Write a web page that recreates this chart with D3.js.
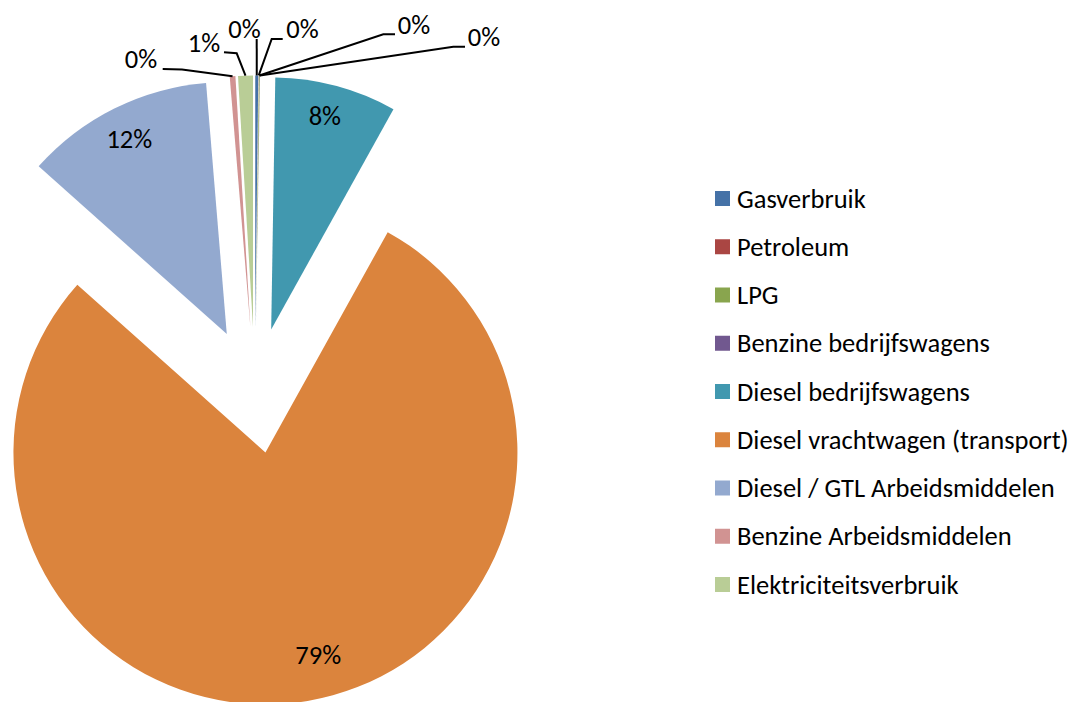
<!DOCTYPE html>
<html>
<head>
<meta charset="utf-8">
<script src="https://cdn.jsdelivr.net/npm/d3@7"></script>
<style>
  html, body { margin: 0; padding: 0; background: #fff; }
  svg { display: block; }
  text { font-family: Carlito, Calibri, Lato, sans-serif; fill: #000; }
</style>
</head>
<body>
<svg id="chart" width="1074" height="702"></svg>
<script>
// ---- data ----
const categories = [
  "Gasverbruik",
  "Petroleum",
  "LPG",
  "Benzine bedrijfswagens",
  "Diesel bedrijfswagens",
  "Diesel vrachtwagen (transport)",
  "Diesel / GTL Arbeidsmiddelen",
  "Benzine Arbeidsmiddelen",
  "Elektriciteitsverbruik"
];
const shares = [0.19, 0.01, 0.05, 0.01, 7.8, 78.5, 12.1, 0.36, 0.95];
const colors = ["#4572A7", "#AA4643", "#89A54E", "#71588F", "#4198AF", "#DB843D", "#93A9CF", "#D19392", "#B9CD96"];

// ---- layout ----
const W = 1074, H = 702;
const cx = 254.9, cy = 390.4, R = 252, explode = 63;
const fontSize = 26.5;

// labels inside big slices (radius fraction, angle nudge in degrees)
const insideLabel = {
  4: {f: 0.875, da: -0.9},
  5: {f: 0.83, da: -5},
  6: {f: 0.867, da: 0}
};
// labels outside for tiny slices: label centre and elbow of leader line
const outsideLabel = {
  0: {x: 244.5, y: 28.5, ax: 256.7, ay: 39, ex: 256.7, ey: 39},
  1: {x: 302.5, y: 28.5, ax: 282.7, ay: 39, ex: 271.7, ey: 39},
  2: {x: 414, y: 25, ax: 395, ay: 34.3, ex: 383.3, ey: 34.3},
  3: {x: 484, y: 36.5, ax: 465, ay: 46.7, ex: 453.3, ey: 46.7},
  7: {x: 141, y: 58.5, ax: 162.7, ay: 69, ex: 182, ey: 69.5},
  8: {x: 204, y: 42.5, ax: 224, ay: 52.3, ex: 236.7, ey: 53.3}
};

const svg = d3.select("#chart");
svg.append("rect").attr("width", W).attr("height", H).attr("fill", "#fff");

const data = categories.map((c, i) => ({name: c, value: shares[i], color: colors[i], i}));
const total = d3.sum(shares);

const pie = d3.pie().sort(null).value(d => d.value).startAngle(0).endAngle(2 * Math.PI);
const arcs = pie(data);
const arc = d3.arc().innerRadius(0).outerRadius(R);

const g = svg.append("g").attr("transform", `translate(${cx},${cy})`);

function offset(a) {
  const m = (a.startAngle + a.endAngle) / 2;
  return [Math.sin(m) * explode, -Math.cos(m) * explode];
}

g.selectAll("path.slice")
  .data(arcs)
  .join("path")
  .attr("class", "slice")
  .attr("d", arc)
  .attr("fill", d => d.data.color)
  .attr("transform", d => { const o = offset(d); return `translate(${o[0]},${o[1]})`; });

const pct = v => Math.round(v / total * 100) + "%";

// inside labels
arcs.forEach(a => {
  const L = insideLabel[a.index];
  if (!L) return;
  const o = offset(a);
  const m = (a.startAngle + a.endAngle) / 2 + L.da * Math.PI / 180;
  const x = cx + o[0] + Math.sin(m) * R * L.f;
  const y = cy + o[1] - Math.cos(m) * R * L.f;
  svg.append("text")
    .attr("x", x).attr("y", y).attr("dy", "0.34em")
    .attr("text-anchor", "middle")
    .attr("font-size", fontSize)
    .text(pct(a.data.value));
});

// outside labels with leader lines
arcs.forEach(a => {
  const L = outsideLabel[a.index];
  if (!L) return;
  const o = offset(a);
  const m = (a.startAngle + a.endAngle) / 2;
  const px = cx + o[0] + Math.sin(m) * R;
  const py = cy + o[1] - Math.cos(m) * R;
  const pts = [[L.ax, L.ay], [L.ex, L.ey], [px, py]];
  svg.append("path")
    .attr("d", d3.line()(pts))
    .attr("fill", "none")
    .attr("stroke", "#000")
    .attr("stroke-width", 2);
  svg.append("text")
    .attr("x", L.x).attr("y", L.y).attr("dy", "0.34em")
    .attr("text-anchor", "middle")
    .attr("font-size", fontSize)
    .text(pct(a.data.value));
});

// legend
const lx = 715, ly0 = 198.5, lstep = 48.25, sw = 15;
const leg = svg.append("g");
data.forEach((d, i) => {
  const y = ly0 + i * lstep;
  leg.append("rect").attr("x", lx).attr("y", y - sw / 2).attr("width", sw).attr("height", sw).attr("fill", d.color);
  leg.append("text").attr("x", lx + 22).attr("y", y).attr("dy", "0.34em")
    .attr("font-size", fontSize).text(d.name);
});
</script>
</body>
</html>
